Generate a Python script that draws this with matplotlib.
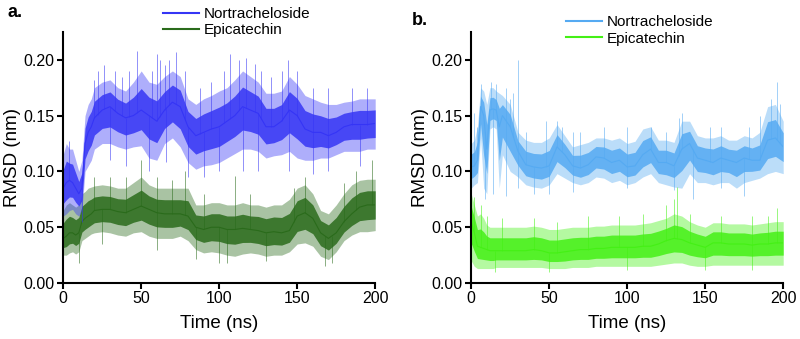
import numpy as np
import matplotlib
matplotlib.use('Agg')
import matplotlib.pyplot as plt
from matplotlib.lines import Line2D

plt.rcParams['font.family'] = ['Liberation Sans', 'DejaVu Sans']

# Time axis (ns) - finer at the start where things move fast
time_ns = [0, 2, 4, 6, 8, 10, 12, 14, 16, 18, 20, 25, 30, 35, 40, 45, 50, 55, 60, 65,
           70, 75, 80, 85, 90, 95, 100, 105, 110, 115, 120, 125, 130, 135, 140, 145,
           150, 155, 160, 165, 170, 175, 180, 185, 190, 195, 200]

# Panel a - Nortracheloside (mid / upper / lower envelope, nm)
a_nor_mid = [0.085, 0.09, 0.092, 0.09, 0.085, 0.08, 0.085, 0.125, 0.135, 0.14, 0.148, 0.155,
             0.158, 0.152, 0.148, 0.15, 0.155, 0.15, 0.145, 0.155, 0.162, 0.158, 0.14, 0.132,
             0.135, 0.138, 0.14, 0.145, 0.15, 0.158, 0.155, 0.152, 0.14, 0.14, 0.145, 0.155,
             0.15, 0.138, 0.135, 0.135, 0.132, 0.135, 0.14, 0.142, 0.142, 0.142, 0.143]
a_nor_hi = [0.115, 0.125, 0.12, 0.12, 0.11, 0.1, 0.11, 0.15, 0.16, 0.165, 0.175, 0.18,
            0.182, 0.175, 0.172, 0.18, 0.19, 0.18, 0.178, 0.185, 0.19, 0.185, 0.165, 0.16,
            0.165, 0.168, 0.172, 0.175, 0.182, 0.19, 0.185, 0.18, 0.17, 0.17, 0.172, 0.185,
            0.178, 0.168, 0.165, 0.162, 0.16, 0.16, 0.162, 0.163, 0.165, 0.165, 0.165]
a_nor_lo = [0.06, 0.062, 0.065, 0.066, 0.062, 0.06, 0.065, 0.1, 0.105, 0.11, 0.12, 0.125,
            0.125, 0.122, 0.12, 0.122, 0.123, 0.112, 0.11, 0.125, 0.13, 0.122, 0.108, 0.102,
            0.105, 0.106, 0.108, 0.112, 0.116, 0.12, 0.12, 0.118, 0.112, 0.114, 0.115, 0.118,
            0.112, 0.11, 0.11, 0.112, 0.112, 0.115, 0.118, 0.118, 0.118, 0.12, 0.12]
a_nor_spikes = [(4, 0.127), (20, 0.182), (22, 0.19), (26, 0.195), (33, 0.19), (38, 0.185),
                (42, 0.19), (47, 0.208), (57, 0.19), (60, 0.205), (62, 0.2), (65, 0.195),
                (68, 0.2), (72, 0.207), (78, 0.19), (88, 0.175), (95, 0.18), (103, 0.19),
                (107, 0.205), (113, 0.2), (117, 0.202), (123, 0.196), (127, 0.19), (133, 0.185),
                (140, 0.19), (144, 0.2), (150, 0.19), (160, 0.175), (170, 0.175), (185, 0.175),
                (195, 0.175),
                (12, 0.055), (30, 0.11), (40, 0.105), (55, 0.1), (66, 0.108), (80, 0.095),
                (90, 0.095), (100, 0.1), (115, 0.1), (125, 0.1), (145, 0.1), (160, 0.098),
                (170, 0.1), (190, 0.105)]

# Panel a - Epicatechin
a_epi_mid = [0.04, 0.042, 0.045, 0.045, 0.043, 0.045, 0.055, 0.058, 0.06, 0.062, 0.065, 0.066,
             0.066, 0.064, 0.063, 0.066, 0.069, 0.066, 0.063, 0.062, 0.062, 0.062, 0.06, 0.05,
             0.048, 0.05, 0.05, 0.048, 0.048, 0.049, 0.048, 0.047, 0.045, 0.046, 0.045, 0.047,
             0.06, 0.063, 0.058, 0.045, 0.04, 0.045, 0.055, 0.062, 0.068, 0.07, 0.07]
a_epi_hi = [0.065, 0.07, 0.072, 0.07, 0.068, 0.07, 0.08, 0.082, 0.085, 0.086, 0.087, 0.088,
            0.087, 0.085, 0.085, 0.09, 0.095, 0.088, 0.085, 0.085, 0.085, 0.085, 0.085, 0.07,
            0.07, 0.072, 0.072, 0.07, 0.07, 0.072, 0.07, 0.07, 0.068, 0.07, 0.07, 0.075,
            0.085, 0.088, 0.08, 0.065, 0.062, 0.07, 0.08, 0.088, 0.092, 0.093, 0.093]
a_epi_lo = [0.025, 0.025, 0.027, 0.028, 0.026, 0.028, 0.038, 0.04, 0.042, 0.044, 0.045, 0.046,
            0.045, 0.043, 0.042, 0.045, 0.046, 0.042, 0.04, 0.04, 0.04, 0.042, 0.038, 0.03,
            0.027, 0.028, 0.027, 0.025, 0.024, 0.026, 0.027, 0.026, 0.024, 0.025, 0.025, 0.028,
            0.035, 0.036, 0.033, 0.024, 0.021, 0.028, 0.038, 0.043, 0.046, 0.046, 0.047]
a_epi_spikes = [(20, 0.095), (30, 0.095), (40, 0.095), (50, 0.11), (60, 0.095), (70, 0.092),
                (78, 0.1), (90, 0.08), (110, 0.096), (120, 0.08), (148, 0.085), (155, 0.095),
                (180, 0.09), (188, 0.1), (198, 0.11),
                (10, 0.018), (25, 0.035), (60, 0.03), (85, 0.022), (100, 0.018), (105, 0.018),
                (130, 0.02), (168, 0.015), (172, 0.018)]

# Panel b - Nortracheloside
b_nor_mid = [0.104, 0.105, 0.11, 0.158, 0.15, 0.12, 0.155, 0.156, 0.155, 0.14, 0.15, 0.14,
             0.118, 0.106, 0.104, 0.103, 0.105, 0.122, 0.115, 0.105, 0.103, 0.106, 0.113, 0.112,
             0.108, 0.11, 0.104, 0.105, 0.115, 0.12, 0.108, 0.108, 0.105, 0.12, 0.125, 0.112,
             0.11, 0.108, 0.112, 0.11, 0.108, 0.112, 0.11, 0.11, 0.128, 0.13, 0.122]
b_nor_hi = [0.125, 0.128, 0.14, 0.175, 0.172, 0.16, 0.175, 0.175, 0.172, 0.17, 0.168, 0.16,
            0.135, 0.128, 0.126, 0.126, 0.13, 0.142, 0.132, 0.122, 0.124, 0.126, 0.13, 0.13,
            0.128, 0.13, 0.125, 0.127, 0.138, 0.14, 0.128, 0.128, 0.126, 0.145, 0.145, 0.132,
            0.13, 0.13, 0.132, 0.128, 0.128, 0.132, 0.13, 0.135, 0.158, 0.16, 0.145]
b_nor_lo = [0.085, 0.088, 0.09, 0.13, 0.085, 0.08, 0.138, 0.14, 0.138, 0.085, 0.115, 0.1,
            0.095, 0.088, 0.086, 0.085, 0.088, 0.098, 0.094, 0.09, 0.088, 0.09, 0.095, 0.094,
            0.09, 0.092, 0.088, 0.09, 0.095, 0.098, 0.09, 0.088, 0.086, 0.085, 0.098, 0.09,
            0.09, 0.088, 0.09, 0.09, 0.085, 0.09, 0.092, 0.094, 0.098, 0.1, 0.098]
b_nor_spikes = [(2, 0.152), (4, 0.14), (6, 0.178), (13, 0.18), (16, 0.178), (22, 0.175),
                (25, 0.165), (27, 0.17), (30, 0.2), (35, 0.135), (48, 0.145), (55, 0.145),
                (58, 0.14), (65, 0.135), (70, 0.135), (85, 0.14), (100, 0.14), (115, 0.14),
                (125, 0.135), (133, 0.148), (135, 0.152), (153, 0.14), (160, 0.14), (178, 0.14),
                (185, 0.15), (192, 0.165), (196, 0.18), (198, 0.16),
                (9, 0.075), (14, 0.08), (22, 0.078), (30, 0.085), (40, 0.08), (50, 0.08),
                (65, 0.082), (100, 0.085), (130, 0.083), (142, 0.075), (160, 0.085), (175, 0.078)]

# Panel b - Epicatechin
b_epi_mid = [0.055, 0.045, 0.033, 0.032, 0.031, 0.03, 0.029, 0.029, 0.029, 0.029, 0.029, 0.029,
             0.029, 0.029, 0.03, 0.029, 0.027, 0.027, 0.028, 0.029, 0.03, 0.03, 0.031, 0.031,
             0.032, 0.032, 0.032, 0.032, 0.033, 0.033, 0.035, 0.038, 0.04, 0.039, 0.036, 0.034,
             0.032, 0.036, 0.036, 0.035, 0.035, 0.035, 0.034, 0.035, 0.035, 0.036, 0.036]
b_epi_hi = [0.08, 0.07, 0.06, 0.062, 0.058, 0.052, 0.05, 0.05, 0.05, 0.05, 0.05, 0.05,
            0.05, 0.05, 0.051, 0.05, 0.048, 0.048, 0.049, 0.05, 0.05, 0.05, 0.051, 0.051,
            0.052, 0.052, 0.052, 0.052, 0.053, 0.054, 0.056, 0.058, 0.062, 0.06, 0.055, 0.052,
            0.05, 0.054, 0.054, 0.053, 0.053, 0.053, 0.052, 0.053, 0.054, 0.055, 0.055]
b_epi_lo = [0.02, 0.015, 0.013, 0.013, 0.013, 0.013, 0.013, 0.013, 0.014, 0.014, 0.014, 0.014,
            0.014, 0.014, 0.014, 0.014, 0.013, 0.013, 0.013, 0.014, 0.014, 0.014, 0.015, 0.015,
            0.015, 0.015, 0.015, 0.015, 0.015, 0.015, 0.016, 0.017, 0.018, 0.018, 0.016, 0.015,
            0.015, 0.016, 0.016, 0.016, 0.016, 0.016, 0.016, 0.016, 0.016, 0.016, 0.016]
b_epi_spikes = [(2, 0.077), (6, 0.07), (10, 0.06), (20, 0.058), (40, 0.058), (55, 0.055),
                (75, 0.06), (95, 0.06), (110, 0.062), (125, 0.07), (130, 0.075), (132, 0.086),
                (140, 0.062), (160, 0.06), (180, 0.06), (190, 0.06), (196, 0.067),
                (15, 0.01), (50, 0.01), (100, 0.012), (150, 0.012), (180, 0.012)]

labels = ['Nortracheloside', 'Epicatechin']
colors_a = ['#3535f5', '#2a6b1b']
colors_b = ['#55aaf2', '#44f015']


def draw_band(ax, mid, hi, lo, spikes, color):
    t = np.array(time_ns)
    mid, hi, lo = np.array(mid), np.array(hi), np.array(lo)
    # light outer envelope + dense core
    ax.fill_between(t, lo, hi, color=color, alpha=0.4, lw=0)
    ax.fill_between(t, mid - 0.55 * (mid - lo), mid + 0.55 * (hi - mid), color=color, alpha=0.85, lw=0)
    ax.plot(t, mid, color=color, lw=0.8)
    mid_at = np.interp([s[0] for s in spikes], t, mid)
    ax.vlines([s[0] for s in spikes], mid_at, [s[1] for s in spikes], color=color, alpha=0.55, lw=0.7)


def style_axes(ax):
    ax.set_xlim(0, 200)
    ax.set_ylim(0, 0.225)
    ax.set_xticks([0, 50, 100, 150, 200])
    ax.set_yticks([0, 0.05, 0.10, 0.15, 0.20])
    ax.yaxis.set_major_formatter(matplotlib.ticker.FormatStrFormatter('%.2f'))
    ax.spines['top'].set_visible(False)
    ax.spines['right'].set_visible(False)
    for s in ['left', 'bottom']:
        ax.spines[s].set_linewidth(1.5)
    ax.tick_params(width=1.5, length=4, labelsize=11.5, direction='out', pad=2)
    ax.set_xlabel('Time (ns)', fontsize=13.5, labelpad=6)
    ax.set_ylabel('RMSD (nm)', fontsize=13.5, labelpad=2)
    ax.margins(0)


fig = plt.figure(figsize=(8, 3.39), dpi=100)
ax_a = fig.add_axes([0.079, 0.165, 0.39, 0.741])
ax_b = fig.add_axes([0.589, 0.165, 0.39, 0.741])

draw_band(ax_a, a_epi_mid, a_epi_hi, a_epi_lo, a_epi_spikes, colors_a[1])
draw_band(ax_a, a_nor_mid, a_nor_hi, a_nor_lo, a_nor_spikes, colors_a[0])
draw_band(ax_b, b_nor_mid, b_nor_hi, b_nor_lo, b_nor_spikes, colors_b[0])
draw_band(ax_b, b_epi_mid, b_epi_hi, b_epi_lo, b_epi_spikes, colors_b[1])

for ax in (ax_a, ax_b):
    style_axes(ax)

# legends sit above the plot areas
handles_a = [Line2D([], [], color=c, lw=1.5) for c in colors_a]
handles_b = [Line2D([], [], color=c, lw=1.5) for c in colors_b]
fig.legend(handles_a, labels, loc='upper left', bbox_to_anchor=(0.186, 1.02), frameon=False,
           fontsize=11, handlelength=2.4, handletextpad=0.3, labelspacing=0.15)
fig.legend(handles_b, labels, loc='upper left', bbox_to_anchor=(0.69, 0.995), frameon=False,
           fontsize=11, handlelength=2.4, handletextpad=0.3, labelspacing=0.15)

fig.text(0.01, 0.962, 'a.', fontsize=13, fontweight='bold', va='center')
fig.text(0.515, 0.94, 'b.', fontsize=13, fontweight='bold', va='center')

fig.savefig('out.png', dpi=100)
